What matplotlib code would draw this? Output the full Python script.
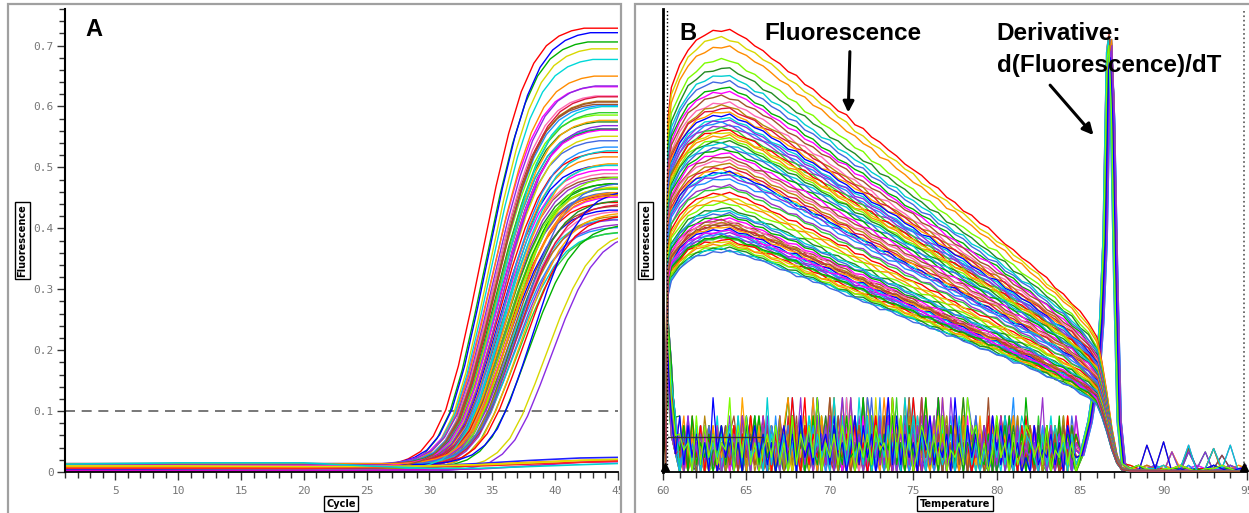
import matplotlib
matplotlib.use("Agg")
import matplotlib.pyplot as plt
import numpy as np
from matplotlib.patches import Rectangle
from matplotlib.ticker import MultipleLocator

plt.rcParams["font.family"] = ["Liberation Sans", "DejaVu Sans"]

W, H = 1249, 513

PALETTE = [
    "#ff0000", "#00b000", "#0000ff", "#d8d800", "#ff00ff", "#00d8d8", "#ff8c00",
    "#a0522d", "#8a2be2", "#7cfc00", "#ff69b4", "#1e90ff", "#228b22", "#b8860b",
    "#9932cc", "#00ced1", "#dc143c", "#32cd32", "#4169e1", "#ffa500",
]

# ---- panel A: amplification curves (cycle at half plateau, plateau height)
AMP_C50 = [
    34.3, 34.6, 34.8, 34.9, 35.0, 35.0, 35.1, 35.1, 35.2, 35.2,
    35.2, 35.3, 35.3, 35.3, 35.4, 35.4, 35.4, 35.5, 35.5, 35.5,
    35.6, 35.6, 35.6, 35.7, 35.7, 35.7, 35.8, 35.8, 35.8, 35.9,
    35.9, 35.9, 36.0, 36.0, 36.0, 36.1, 36.1, 36.1, 36.2, 36.2,
    36.2, 36.3, 36.3, 36.3, 36.4, 36.4, 36.5, 36.5, 36.6, 36.6,
    36.7, 36.7, 36.8, 36.8, 36.9, 36.9, 37.0, 37.1, 37.2, 37.3,
    37.6, 38.0, 38.4, 39.4, 35.6, 36.0, 36.5, 35.3, 39.8,
]
AMP_PLATEAU = [
    0.72, 0.70, 0.71, 0.69, 0.62, 0.67, 0.64, 0.60, 0.62, 0.58,
    0.61, 0.59, 0.57, 0.60, 0.56, 0.55, 0.61, 0.58, 0.53, 0.57,
    0.52, 0.55, 0.50, 0.54, 0.49, 0.59, 0.51, 0.47, 0.56, 0.46,
    0.48, 0.53, 0.46, 0.45, 0.47, 0.52, 0.44, 0.46, 0.45, 0.50,
    0.43, 0.47, 0.42, 0.46, 0.44, 0.41, 0.45, 0.43, 0.40, 0.48,
    0.42, 0.39, 0.44, 0.41, 0.40, 0.38, 0.43, 0.39, 0.46, 0.42,
    0.41, 0.40, 0.45, 0.39, 0.55, 0.50, 0.44, 0.60, 0.39,
]
# baseline level of each curve, one digit per curve (x 0.0013 + 0.002)
AMP_BASE = "5372846193 4725183694 2817364952 6183749253 8164725391 4726385192 638271940"
# typical curve shape (fraction of plateau) vs cycles from half plateau
AMP_OFFSETS = list(range(-9, 15))
AMP_SHAPE = [0.0, 0.003, 0.008, 0.018, 0.035, 0.07, 0.13, 0.23, 0.36, 0.50,
             0.64, 0.76, 0.855, 0.92, 0.96, 0.982, 0.994, 1.0, 1.0, 1.0,
             1.0, 1.0, 1.0, 1.0]
# negative controls
NEG_CYCLES = [1, 10, 20, 25, 30, 34, 38, 42, 45]
NEG_CURVES = [
    [0.004, 0.005, 0.006, 0.007, 0.010, 0.014, 0.019, 0.023, 0.024],
    [0.008, 0.008, 0.008, 0.008, 0.009, 0.012, 0.016, 0.019, 0.020],
    [0.002, 0.002, 0.003, 0.003, 0.004, 0.005, 0.010, 0.016, 0.017],
    [0.006, 0.006, 0.006, 0.007, 0.008, 0.010, 0.013, 0.016, 0.018],
    [0.010, 0.010, 0.009, 0.009, 0.010, 0.012, 0.015, 0.019, 0.021],
    [0.013, 0.015, 0.015, 0.010, 0.006, 0.006, 0.009, 0.012, 0.014],
]
NEG_COLORS = ["#2020ff", "#ff9900", "#cc00cc", "#ff2020", "#e0e000", "#00d0d0"]
THRESHOLD = 0.1

# ---- panel B: melt curves
MELT_PEAK = [
    0.726, 0.712, 0.698, 0.676, 0.662, 0.650, 0.641, 0.630, 0.624, 0.616,
    0.606, 0.600, 0.596, 0.590, 0.586, 0.580, 0.577, 0.572, 0.568, 0.563,
    0.560, 0.556, 0.552, 0.547, 0.543, 0.538, 0.533, 0.528, 0.522, 0.516,
    0.511, 0.505, 0.500, 0.495, 0.492, 0.489, 0.486, 0.480, 0.470, 0.466,
    0.458, 0.452, 0.446, 0.440, 0.432, 0.428, 0.424, 0.420, 0.416, 0.412,
    0.410, 0.407, 0.404, 0.401, 0.398, 0.395, 0.392, 0.389, 0.386, 0.383,
    0.380, 0.377, 0.374, 0.371, 0.368, 0.365, 0.362, 0.385, 0.395, 0.405,
]
MELT_HEAD_T = [60.15, 60.3]
MELT_HEAD = [0.0, 0.80]
MELT_T = np.arange(60.5, 86.01, 0.5)
MELT_SHAPE = [
    0.87, 0.92, 0.955, 0.975, 0.99, 0.998, 1.0, 0.998, 0.99, 0.978,
    0.965, 0.952, 0.938, 0.924, 0.909, 0.894, 0.879, 0.864, 0.849, 0.834,
    0.819, 0.804, 0.789, 0.774, 0.759, 0.744, 0.729, 0.714, 0.699, 0.684,
    0.669, 0.654, 0.639, 0.624, 0.609, 0.594, 0.579, 0.564, 0.549, 0.534,
    0.518, 0.502, 0.486, 0.470, 0.454, 0.437, 0.420, 0.402, 0.383, 0.362,
    0.338, 0.305,
]
MELT_TAIL_T = [86.3, 86.6, 86.9, 87.2, 87.5, 88.0, 95.0]
MELT_TAIL = [0.25, 0.18, 0.10, 0.04, 0.01, 0.004, 0.002]
MELT_WIGGLE = [
    "4536251746352417263528173645246372516384253647152645",
    "5263748152637415263847152637481526374152836471526354",
    "3647152836475261738452637184526371845263718452637145",
    "6152738461524738162547381625471836254718362574816253",
    "4273615824716352847163528174635281746352817463528174",
    "5318264735182647351826473518264735182647351826473518",
    "2647351826473518264735182647351826473518264735182647",
    "7362514837261548372615483726154837261548372615483726",
]

# derivative curves: start spike, noise 61-84.75 C, melt peak, noise 88-95 C
DERIV_START_T = [60.1, 60.25, 60.5, 60.75]
DERIV_START = ["942", "731", "853", "621", "962", "841", "732", "951", "642", "832",
               "721", "943", "852", "631", "741", "962", "521", "843", "732", "951",
               "642", "831", "742", "653"]
# noise digit -> derivative level
NOISE_LEVEL = [0.0, 0.0, 0.012, 0.024, 0.036, 0.048, 0.062, 0.076, 0.092, 0.122]
DERIV_NOISE = [
    "314253162435 352614253172 413526142736 251314263518 241625371423 516241362514 263714252613 415263172534",
    "263514273615 263518241637 152436172514 362517243615 274152638142 537162418253 614273516243 726153426152",
    "425136241735 524136251427 361524173625 142637152836 251473625184 263517243615 372514261735 241625371542",
    "153624371526 415263714253 627143526184 352617243516 284173526143 627351426173 512436271543 163524172635",
    "362415263714 364152736142 517263415372 641528361742 536271452613 748253614275 361524736152 437261524163",
    "241637152436 253614726135 241736152846 153627415263 719253614725 342617351624 175362418352 614273625143",
    "537142635214 472615362417 253816243517 264153728164 253617492536 172635418263 527143625173 426152736415",
    "152736412536 536241725314 627153426381 524163725416 381627435162 738152643725 164352716243 517263415372",
    "426153724163 245163725143 618253471625 391625437162 541826371524 639152736418 253716425361 742516372415",
    "315264137251 614253726143 527361842516 372415263719 256341827365 142736159263 471526384162 537241635271",
    "243615274316 351627415362 841526371425 163728415263 179253614826 371524163728 415263718254 136272514263",
    "164352716243 527143625174 362518427163 548162735142 627391524163 725481627351 462738152643 718253614725",
    "372514263715 163725416273 514836271542 637152849163 527241635172 849163527314 625173842516 372415263718",
    "251637142536 742516372418 253617249153 627451836271 543627185362 417253618472 536172849152 637241526374",
    "436152736142 425163741526 372814526371 425361728493 516274153628 371524163972 514263718253 642715326184",
    "162537241635 618253471625 341726385142 637291536142 735261849153 627354172618 253741625374 152638271543",
    "354216372514 371524836172 415263718425 364172539162 841527363418 253627149352 617254836172 543261738154",
    "243716352417 254163728415 361528471625 391537264182 536274153829 416352718463 527142638152 746253614273",
    "517263415372 536172841526 374152639184 253627418362 517243916352 748152637261 543726158263 417253642816",
    "136425173625 163527481623 745162738152 946371528463 715264382517 362451738264 153628471536 274163528174",
    "425361724153 427351628471 536274915362 817253641827 354162739518 264372815463 728154263718 352647152836",
    "261537426135 684152736241 527381642537 162849152736 418253627491 536274815263 729154362817 463525172641",
    "347152634271 315263748152 637249163528 471536282945 163728415372 649253816274 152637481526 374915263728",
    "152634172536 742615384152 769253418263 574162839154 726351847263 519374628152 736415283719 452637281546",
]
DERIV_PEAK_T = [86.62, 86.70, 86.58, 86.75, 86.66, 86.80, 86.64, 86.72, 86.60, 86.78,
                86.68, 86.74, 86.56, 86.70, 86.82, 86.64, 86.76, 86.62, 86.68, 86.72,
                86.60, 86.78, 86.66, 86.70]
DERIV_PEAK_H = [0.70, 0.68, 0.71, 0.69, 0.67, 0.70, 0.72, 0.68, 0.69, 0.71,
                0.66, 0.70, 0.69, 0.71, 0.68, 0.70, 0.67, 0.72, 0.69, 0.70,
                0.68, 0.71, 0.69, 0.70]
DERIV_PEAK_OFF = [-1.6, -1.1, -0.6, -0.4, -0.2, 0.0, 0.1, 0.25, 0.45, 0.65, 0.9]
DERIV_PEAK_SHAPE = [0.04, 0.12, 0.25, 0.36, 0.55, 0.97, 1.0, 0.85, 0.45, 0.12, 0.02]
DERIV_POST = [
    "121011210112101", "108190100121011", "101120180171801", "010101061601210",
    "120101101021101", "011206010110112", "101010171015101", "210110101101011",
    "012101210170110", "101021010101121", "110106101012101", "011010110110111",
    "101210101011010", "120101010101201", "011101020110101", "101011012101101",
    "010201101010110", "102010110101010", "011010201101011", "101101010110101",
    "010110101011010", "110101011010101", "101010110101101", "011011010101110",
]
FLAT_T = [60.3, 66.0]
FLAT_V = [0.057, 0.057]

CYCLE_TICKS = [5, 10, 15, 20, 25, 30, 35, 40, 45]
TEMP_TICKS = [60, 65, 70, 75, 80, 85, 90, 95]
Y_TICKS = [0, 0.1, 0.2, 0.3, 0.4, 0.5, 0.6, 0.7]
Y_LABELS = ["0", "0.1", "0.2", "0.3", "0.4", "0.5", "0.6", "0.7"]


def digits(s):
    return [int(c) for c in s.replace(" ", "")]


fig = plt.figure(figsize=(W / 100, H / 100), dpi=100)


def px_axes(x0, x1, y_top, y_bot):
    return fig.add_axes([x0 / W, (H - y_bot) / H, (x1 - x0) / W, (y_bot - y_top) / H])


axA = px_axes(65, 618, 9, 472)
axB = px_axes(663, 1247, 9, 472)

tick_font = dict(fontfamily="DejaVu Sans Mono", fontsize=8, color="#777777")
label_box = dict(boxstyle="square,pad=0.25", fc="white", ec="black", lw=1)
label_font = dict(fontsize=7, fontweight="bold", family="DejaVu Sans", bbox=label_box)

for ax in (axA, axB):
    for side in ("top", "right"):
        ax.spines[side].set_visible(False)
    ax.spines["bottom"].set_linewidth(1.3)
    ax.set_ylim(0, 0.76)
    ax.tick_params(axis="x", which="major", length=6, width=1, color="#333333", pad=4)
    ax.tick_params(axis="x", which="minor", length=4, width=1, color="#333333")
    ax.xaxis.set_minor_locator(MultipleLocator(1))

# panel A
axA.set_xlim(1, 45)
axA.spines["left"].set_linewidth(1.5)
axA.set_xticks(CYCLE_TICKS, [str(t) for t in CYCLE_TICKS], **tick_font)
axA.set_yticks(Y_TICKS, Y_LABELS, **tick_font)
axA.yaxis.set_minor_locator(MultipleLocator(0.02))
axA.tick_params(axis="y", which="major", length=6, width=1, color="#333333", pad=2)
axA.tick_params(axis="y", which="minor", length=4, width=1, color="#333333")

base_digits = digits(AMP_BASE)
for i, (c50, plat) in enumerate(zip(AMP_C50, AMP_PLATEAU)):
    base = 0.002 + base_digits[i] * 0.0013
    x = [1.0] + [c50 + d for d in AMP_OFFSETS]
    y = [base] + [base + plat * s for s in AMP_SHAPE]
    axA.plot(x, y, color=PALETTE[i % len(PALETTE)], lw=1.0, zorder=2)

for vals, col in zip(NEG_CURVES, NEG_COLORS):
    axA.plot(NEG_CYCLES, vals, color=col, lw=1.2, zorder=2)

axA.axhline(THRESHOLD, color="#606060", lw=1.2, ls=(0, (6, 4)), zorder=1)

axA.text(2.6, 0.727, "A", fontsize=17, fontweight="bold", ha="left", va="center")
axA.set_xlabel("Cycle", **label_font)
axA.xaxis.set_label_coords(0.499, -0.058)
axA.set_ylabel("Fluorescence", **label_font)
axA.yaxis.set_label_coords(-0.068, 0.5)

# panel B
axB.set_xlim(60, 95)
axB.spines["left"].set_linewidth(2.0)
axB.set_xticks(TEMP_TICKS, [str(t) for t in TEMP_TICKS], **tick_font)
axB.set_yticks([])

n_rows = len(DERIV_NOISE)
for k in range(2 * n_rows):
    i = k % n_rows
    row = DERIV_NOISE[i].replace(" ", "")
    if k >= n_rows:
        # second set of wells: same recorded noise pattern, read backwards
        row = row[::-1]
        i = n_rows - 1 - i
    noise = [NOISE_LEVEL[d] for d in digits(row)]
    start = [0.02] + [d * 0.03 for d in digits(DERIV_START[i])]
    post = [d * 0.0055 for d in digits(DERIV_POST[i])]
    peak = [DERIV_PEAK_H[i] * s for s in DERIV_PEAK_SHAPE]
    t = np.concatenate([
        DERIV_START_T,
        np.linspace(61.0, 84.75, len(noise)),
        DERIV_PEAK_T[i] + np.array(DERIV_PEAK_OFF),
        np.linspace(88.0, 95.0, len(post)),
    ])
    v = np.concatenate([start, noise, peak, post])
    axB.plot(t, v, color=PALETTE[(k * 7) % len(PALETTE)], lw=0.9, zorder=2)

axB.plot(FLAT_T, FLAT_V, color="#333333", lw=1.0, zorder=2)

for i, pk in enumerate(MELT_PEAK):
    wig = np.array(digits((MELT_WIGGLE[i % len(MELT_WIGGLE)] * 2)[: len(MELT_T)]))
    body = pk * np.array(MELT_SHAPE) + (wig - 4.5) * 0.0008
    t = np.concatenate([MELT_HEAD_T, MELT_T, MELT_TAIL_T])
    v = np.concatenate([pk * np.array(MELT_HEAD), body, pk * np.array(MELT_TAIL)])
    axB.plot(t, v, color=PALETTE[(i * 3) % len(PALETTE)], lw=1.0, zorder=3)

axB.axvline(60.25, color="black", lw=1, ls=":", zorder=4)
axB.axvline(94.85, color="#555555", lw=1.2, ls=":", zorder=4)
axB.plot([60.1, 94.85], [0.008, 0.008], ls="none", marker="^", ms=6, color="black",
         clip_on=False, zorder=5)

axB.text(61.0, 0.72, "B", fontsize=17, fontweight="bold", ha="left", va="center")
axB.text(66.1, 0.72, "Fluorescence", fontsize=17.5, fontweight="bold", ha="left", va="center")
axB.text(80.0, 0.72, "Derivative:", fontsize=17.5, fontweight="bold", ha="left", va="center")
axB.text(80.0, 0.668, "d(Fluorescence)/dT", fontsize=17.5, fontweight="bold", ha="left", va="center")
arrow = dict(arrowstyle="-|>", color="black", lw=2.2, mutation_scale=16, shrinkA=0, shrinkB=0)
axB.annotate("", xy=(71.1, 0.59), xytext=(71.2, 0.69), arrowprops=arrow)
axB.annotate("", xy=(85.8, 0.553), xytext=(83.2, 0.635), arrowprops=arrow)

axB.set_xlabel("Temperature", **label_font)
axB.xaxis.set_label_coords(0.5, -0.058)
axB.set_ylabel("Fluorescence", **label_font)
axB.yaxis.set_label_coords(-0.021, 0.5)

# gap between panels hides the clipped "45" label, then panel frames
fig.add_artist(Rectangle((621.5 / W, 0), 13 / W, 1, transform=fig.transFigure,
                         fc="white", ec="none", zorder=10))
for x0, x1 in ((8, 621), (635, 1262)):
    fig.add_artist(Rectangle((x0 / W, -0.05), (x1 - x0) / W, (H - 4) / H + 0.05,
                             transform=fig.transFigure, fill=False, ec="#a0a0a0",
                             lw=1.6, zorder=11))

fig.savefig("out.png", dpi=100)
